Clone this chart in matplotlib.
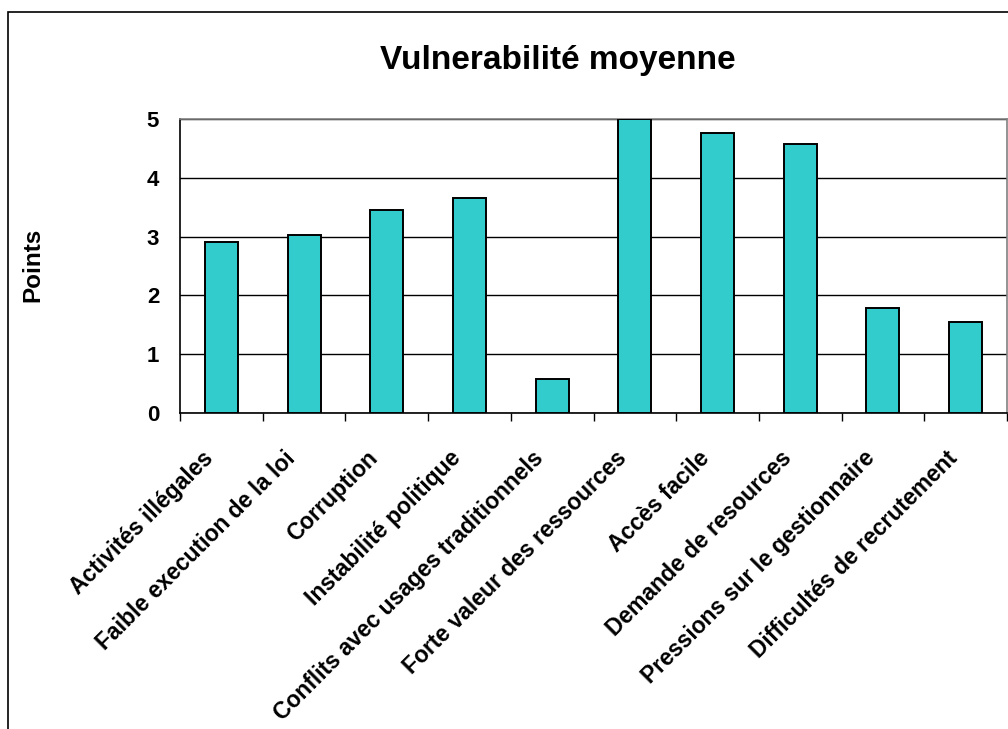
import numpy as np
import matplotlib
matplotlib.use("Agg")
import matplotlib.pyplot as plt
import matplotlib.transforms as mtransforms
from matplotlib.patches import Rectangle

plt.rcParams['font.family'] = ['Liberation Sans', 'DejaVu Sans']
plt.rcParams['font.weight'] = 'bold'

# Data
categories = ['Activités illégales', 'Faible execution de la loi', 'Corruption',
              'Instabilité politique', 'Conflits avec usages traditionnels',
              'Forte valeur des ressources', 'Accès facile', 'Demande de resources',
              'Pressions sur le gestionnaire', 'Difficultés de recrutement']
points = [2.9, 3.02, 3.45, 3.66, 0.57, 5.0, 4.77, 4.57, 1.78, 1.55]
yticks = [0, 1, 2, 3, 4, 5]

fig = plt.figure(figsize=(10.08, 7.29), dpi=100)
# chart area frame (Excel style)
fig.patches.append(Rectangle((8 / 1008, -0.1), 1.2, 1 - 12 / 729 + 0.1,
                             transform=fig.transFigure, fill=False,
                             edgecolor='black', linewidth=1.2))

ax = fig.add_axes([180 / 1008, 1 - 413 / 729, 827 / 1008, 294 / 729])
x = np.arange(len(categories))
ax.bar(x, points, width=0.4, color='#33CCCC', edgecolor='black', linewidth=1.4, zorder=3)

ax.set_xlim(-0.5, len(categories) - 0.5)
ax.set_ylim(0, 5)
ax.set_yticks(yticks)
ax.set_yticklabels([str(t) for t in yticks], fontsize=16, fontweight='bold')
ax.tick_params(axis='y', length=0, pad=15)
ax.yaxis.grid(True, color='black', linewidth=1.0, zorder=0)

# boundary ticks (major) and centred labels (minor)
ax.set_xticks(np.arange(len(categories) + 1) - 0.5)
ax.set_xticklabels([])
ax.tick_params(axis='x', which='major', length=6, width=1, direction='out')
ax.set_xticks(x, minor=True)
ax.set_xticklabels(categories, minor=True, rotation=45, ha='right', va='center',
                   rotation_mode='anchor', fontsize=16.5, fontweight='bold')
ax.tick_params(axis='x', which='minor', length=0, pad=30)
off = mtransforms.ScaledTranslation(-12 / 100, 0, fig.dpi_scale_trans)
for lab in ax.get_xticklabels(minor=True):
    lab.set_transform(lab.get_transform() + off)

for side in ['top', 'right']:
    ax.spines[side].set_color('#808080')
for side in ['left', 'bottom']:
    ax.spines[side].set_color('black')
for s in ax.spines.values():
    s.set_linewidth(1.2)

fig.text(558 / 1008, 1 - 60 / 729, 'Vulnerabilité moyenne', ha='center', va='center',
         fontsize=24, fontweight='bold')
fig.text(33 / 1008, 1 - 265 / 729, 'Points', ha='center', va='center', rotation=90,
         fontsize=17.5, fontweight='bold')

fig.savefig('out.png', dpi=100)
